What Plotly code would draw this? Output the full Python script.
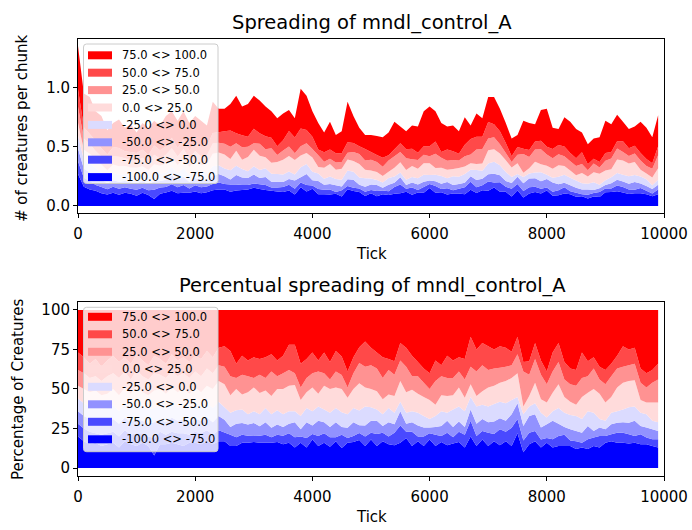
import plotly.graph_objects as go

ticks = list(range(0, 10000, 100))

labels = ["-100.0 <> -75.0", "-75.0 <> -50.0", "-50.0 <> -25.0", "-25.0 <> 0.0",
          "0.0 <> 25.0", "25.0 <> 50.0", "50.0 <> 75.0", "75.0 <> 100.0"]
colors = ["#0000ff", "#4949ff", "#9292ff", "#dbdbff",
          "#ffdbdb", "#ff9292", "#ff4949", "#ff0000"]

# total creatures per chunk (top of the stack)
total = [1.35, 0.95, 0.92, 0.80, 0.76, 0.64, 0.70, 0.73, 0.66, 0.69,
         0.62, 0.70, 0.66, 0.72, 0.68, 0.76, 0.80, 0.72, 0.80, 0.70,
         0.76, 0.72, 0.68, 0.88, 0.82, 0.82, 0.86, 0.93, 0.84, 0.86,
         0.93, 0.89, 0.84, 0.80, 0.74, 0.78, 0.81, 0.74, 0.99, 0.93,
         0.80, 0.70, 0.62, 0.71, 0.60, 0.63, 0.88, 0.76, 0.66, 0.60,
         0.60, 0.59, 0.58, 0.62, 0.71, 0.67, 0.63, 0.68, 0.67, 0.80,
         0.84, 0.80, 0.70, 0.67, 0.68, 0.63, 0.75, 0.68, 0.78, 0.74,
         0.92, 0.92, 0.82, 0.70, 0.57, 0.60, 0.72, 0.70, 0.69, 0.81,
         0.82, 0.66, 0.65, 0.75, 0.71, 0.65, 0.62, 0.52, 0.57, 0.58,
         0.72, 0.69, 0.77, 0.71, 0.65, 0.67, 0.71, 0.66, 0.58, 0.765]

# share (percent) of each mandel-value bin
share_m100_m75 = [20, 17, 15, 16, 14, 15, 16, 13, 17, 15,
                  14, 16, 14, 8, 15, 15, 16, 15, 14, 16,
                  16, 15, 17, 15, 17, 17, 14, 14, 16, 16,
                  16.5, 16, 16, 16, 16.5, 15, 16, 13, 16, 13,
                  18, 14, 16, 13.5, 17, 13, 16, 16.5, 18, 14,
                  18, 14, 17, 15, 14.5, 16, 19, 14, 17, 14,
                  18, 14, 16.5, 14.5, 15.5, 16.5, 13, 20, 14, 18,
                  14, 17, 14.5, 17, 14, 22, 10, 15, 17, 13,
                  16, 13, 14, 14, 14, 12, 13, 12, 14, 13,
                  16, 17, 16, 16, 15.5, 16, 15, 15, 14, 13]
share_m75_m50 = [8, 8, 8, 6, 7, 7, 7, 7, 7, 6,
                 8, 6, 6, 11, 8, 6, 7, 7, 8, 5,
                 7, 7, 7, 6, 7, 5.5, 7, 5.5, 5, 4.5,
                 3.8, 4.5, 5, 3.5, 4.5, 5.5, 6, 6.5, 4, 6,
                 3.5, 6.3, 6, 6, 2.5, 8.4, 3, 3.8, 4.5, 6,
                 4.4, 7.5, 5.4, 5, 7.9, 11, 4, 9, 3, 6,
                 4, 7, 3.8, 7.9, 4, 6.5, 8, 10, 6.3, 5.5,
                 8.4, 4.5, 10, 6, 11.5, 9, 7.5, 7.4, 6.5, 5,
                 3, 5.2, 6.3, 7, 3.5, 5, 3, 6.2, 5.3, 7.3,
                 4.3, 4.4, 6.4, 6.4, 5.9, 4.3, 6.4, 4.3, 4.2, 5.2]
share_m50_m25 = [8, 8, 8, 8, 8, 8, 8, 8, 8, 8,
                 9, 8, 8, 10, 8, 8, 9, 8, 9, 8,
                 8, 8, 8, 8, 9, 8, 5, 8.5, 7.5, 7,
                 8.2, 6, 8, 6, 6.5, 5.5, 6, 9.5, 4.5, 10,
                 5.5, 9.7, 7, 6.5, 9.5, 5, 6.5, 8.7, 5, 7,
                 7.6, 8.5, 4.2, 9, 5.3, 9, 5, 6, 7, 5.6,
                 3.6, 5, 6.3, 7.6, 6.5, 6.5, 5, 7, 7.7, 7.5,
                 6.6, 8, 7, 7, 8.5, 10, 9.1, 10.6, 10.5, 7.6,
                 8.7, 11.8, 7.7, 5, 7, 6.5, 6.4, 8.4, 4.2, 5.3,
                 4.2, 6.3, 6.3, 6.6, 7.3, 9.7, 5.2, 6.3, 6.3, 5.3]
share_m25_0 = [8, 8, 8, 10, 8, 8, 9, 8, 9, 9,
               9, 9, 9, 9, 9, 8, 9, 8, 9, 8,
               9, 9, 9, 9, 9, 8, 9, 8.5, 8.5, 6.5,
               7.5, 7.5, 9, 8.5, 9, 8, 8, 7, 8.5, 9,
               9, 9, 8, 9, 9, 9.5, 8.5, 9, 9.5, 12,
               8.5, 7, 7.4, 9, 7.3, 6, 7, 7, 8, 7.4,
               5.4, 7, 9.4, 5, 11, 9.5, 10, 8, 11, 9,
               10, 11, 10.5, 11, 9, 4, 7.4, 6, 7, 9.4,
               4.3, 6, 10, 9, 9, 9.5, 8.6, 9.4, 11.5, 5.4,
               5.5, 7.3, 7.3, 8, 9.8, 9, 8.4, 8.4, 5.5, 5.5]
share_0_25 = [8, 9, 9, 9, 9, 9, 10, 10, 10, 9,
              12, 9, 9, 11, 10, 10, 10, 10, 10, 10,
              11, 9, 11, 12, 13, 14.5, 11, 13.5, 9.5, 14,
              15, 13.5, 11, 11.5, 13.5, 16, 16, 16.5, 10, 10,
              15, 8, 15, 15, 13, 15, 10.5, 12, 17.5, 12,
              11.5, 11.5, 9.5, 8.5, 10.5, 13, 13, 13.5, 12, 12,
              12, 7, 10, 10.5, 9, 12, 8.5, 8, 6.5, 8.5,
              12, 11.5, 12, 14, 14, 15, 5, 6.5, 13, 8.5,
              9.5, 11.6, 15, 10, 8.5, 7, 14, 11.6, 15, 16,
              11.5, 10, 15, 17, 16.5, 16.5, 8, 7.5, 11.5, 12.5]
share_25_50 = [10, 10, 9, 9, 9, 11, 10, 11, 10, 9,
               10, 10, 10, 11, 9, 10, 10, 10, 10, 10,
               10, 10, 11, 10, 10, 11, 12, 7, 12.5, 10,
               6, 11.5, 8, 15.5, 8, 10, 10, 7.5, 8, 9,
               9, 14, 8, 6, 10, 9, 6.5, 10, 13, 13,
               15, 14.5, 13.5, 15.5, 13.5, 13, 16, 8.5, 11, 9,
               7, 15, 12, 11.5, 11, 10, 11.5, 11, 15.5, 16.5,
               11, 11, 9.5, 9, 8, 12, 22, 13.5, 15, 15.5,
               11.5, 13.4, 14, 11, 11, 12, 12, 10.4, 13, 9,
               11.5, 13, 12, 10, 10, 10.5, 11, 9.5, 12.5, 14.5]
share_50_75 = [11, 10, 9, 11, 9, 10, 11, 10, 9, 10,
               10, 10, 9, 11, 10, 9, 11, 10, 10, 10,
               10, 11, 11, 10, 11, 13, 16, 9, 12, 10,
               13, 10, 13, 11, 10, 11, 16, 18, 15, 12,
               13, 7, 13, 11, 13, 12, 10, 10, 10, 16,
               11, 10, 13, 7, 8.5, 11, 12, 13, 9, 9,
               10, 13, 7, 14, 11, 9, 13, 19, 14, 14,
               15, 12, 13.5, 12, 8.5, 11, 6, 8.5, 10, 9,
               8, 12, 12, 11, 10, 10, 16, 9.5, 7, 8,
               9, 8, 8, 13, 10, 10, 9, 9, 8, 10]
share_75_100 = [27, 30, 34, 31, 36, 32, 29, 33, 30, 34,
                28, 32, 35, 29, 31, 34, 28, 32, 30, 33,
                29, 31, 26, 30, 24, 23, 26, 34, 29, 32,
                30, 31, 30, 28, 32, 29, 22, 22, 34, 31,
                27, 32, 27, 33, 26, 30, 39, 30, 24, 20,
                24, 27, 30, 31, 32.5, 21, 24, 29, 33, 37,
                40, 32, 35, 29, 32, 30, 31, 17, 25, 21,
                23, 25, 23, 24, 26.5, 17, 33, 32.5, 21, 32,
                39, 27, 21, 33, 37, 38, 27, 32.5, 30, 36,
                38, 34, 29, 23, 25, 24, 37, 40, 38, 34]

x_tickvals = [0, 2000, 4000, 6000, 8000, 10000]
x_ticktext = ["0", "2000", "4000", "6000", "8000", "10000"]

shares = [share_m100_m75, share_m75_m50, share_m50_m25, share_m25_0,
          share_0_25, share_25_50, share_50_75, share_75_100]

sums = [sum(s[i] for s in shares) for i in range(len(ticks))]
counts = [[total[i] * s[i] / sums[i] for i in range(len(ticks))] for s in shares]

FONT = "DejaVu Sans"
fig = go.Figure()
for k in range(8):
    fig.add_trace(go.Scatter(x=ticks, y=counts[k], name=labels[k], mode="none",
                             stackgroup="abs", fillcolor=colors[k],
                             xaxis="x", yaxis="y", showlegend=False))
for k in range(8):
    fig.add_trace(go.Scatter(x=ticks, y=counts[k], name=labels[k], mode="none",
                             stackgroup="pct", groupnorm="percent" if k == 0 else None,
                             fillcolor=colors[k],
                             xaxis="x2", yaxis="y2", showlegend=False))

axis_common = dict(showgrid=False, zeroline=False, showline=True, linecolor="black",
                   linewidth=1, mirror=True, ticks="outside", ticklen=4,
                   tickcolor="black", tickfont=dict(size=15, family=FONT, color="black"))

fig.update_layout(
    width=692, height=530,
    margin=dict(l=78, r=28, t=39, b=54, autoexpand=False),
    plot_bgcolor="white", paper_bgcolor="white",
    font=dict(family=FONT, size=15, color="black"),
    xaxis=dict(domain=[0, 1], anchor="y", range=[0, 10000], ticklabelstandoff=3,
               tickvals=x_tickvals, ticktext=x_ticktext, **axis_common),
    yaxis=dict(domain=[0.6018, 1], anchor="x", range=[-0.06, 1.41],
               tickvals=[0, 0.5, 1.0], ticktext=["0.0", "0.5", "1.0"], **axis_common),
    xaxis2=dict(domain=[0, 1], anchor="y2", range=[0, 10000], ticklabelstandoff=3,
                tickvals=x_tickvals, ticktext=x_ticktext, **axis_common),
    yaxis2=dict(domain=[0, 0.3982], anchor="x2", range=[-5, 105],
                tickvals=[0, 25, 50, 75, 100], **axis_common),
    showlegend=False,
)

H = 530 - 39 - 54
W = 586
def py(p):
    return (476 - p) / H
def px(p):
    return (p - 78) / W

ann = [
    ("Spreading of mndl_control_A", px(372), py(22), 19.5, 0),
    ("Percentual spreading of mndl_control_A", px(372), py(285), 19.5, 0),
    ("Tick", px(371), py(254), 15, 0),
    ("Tick", px(371), py(517), 15, 0),
    ("# of creatures per chunk", px(22), py(128), 15, -90),
    ("Percentage of Creatures", px(18), py(389), 15, -90),
]
for t, x, y, s, a in ann:
    fig.add_annotation(text=t, x=x, y=y, xref="paper", yref="paper", showarrow=False,
                       xanchor="center", yanchor="middle", textangle=a,
                       font=dict(size=s, family=FONT, color="black"))

# matplotlib-style legend boxes (drawn in pixel positions)
def rounded_box(x0, y0, x1, y1, r=3):
    X = lambda v: px(v)
    Y = lambda v: py(v)
    return (f"M {X(x0 + r)} {Y(y0)} L {X(x1 - r)} {Y(y0)} Q {X(x1)} {Y(y0)} {X(x1)} {Y(y0 + r)} "
            f"L {X(x1)} {Y(y1 - r)} Q {X(x1)} {Y(y1)} {X(x1 - r)} {Y(y1)} "
            f"L {X(x0 + r)} {Y(y1)} Q {X(x0)} {Y(y1)} {X(x0)} {Y(y1 - r)} "
            f"L {X(x0)} {Y(y0 + r)} Q {X(x0)} {Y(y0)} {X(x0 + r)} {Y(y0)} Z")

def add_legend(box_top, box_bottom, row0, step):
    fig.add_shape(type="path", path=rounded_box(83.5, box_top, 218, box_bottom),
                  xref="paper", yref="paper", layer="above",
                  fillcolor="rgba(255,255,255,0.8)", line=dict(color="#cccccc", width=1))
    for j in range(8):
        k = 7 - j
        yc = row0 + step * j
        fig.add_shape(type="rect", x0=px(88), x1=px(112), y0=py(yc - 4), y1=py(yc + 4),
                      xref="paper", yref="paper", layer="above",
                      fillcolor=colors[k], line=dict(width=0))
        fig.add_annotation(text=labels[k], x=px(119.5), y=py(yc), xref="paper", yref="paper",
                           showarrow=False, xanchor="left", yanchor="middle",
                           font=dict(size=11.5, family=FONT, color="black"))

add_legend(44, 183.5, 55.3, 17.4)
add_legend(307.3, 451.7, 316.8, 17.5)

fig.write_html("out.html", config={"displayModeBar": False},
               post_script="document.body.style.margin='0px';document.body.style.padding='0px';")
